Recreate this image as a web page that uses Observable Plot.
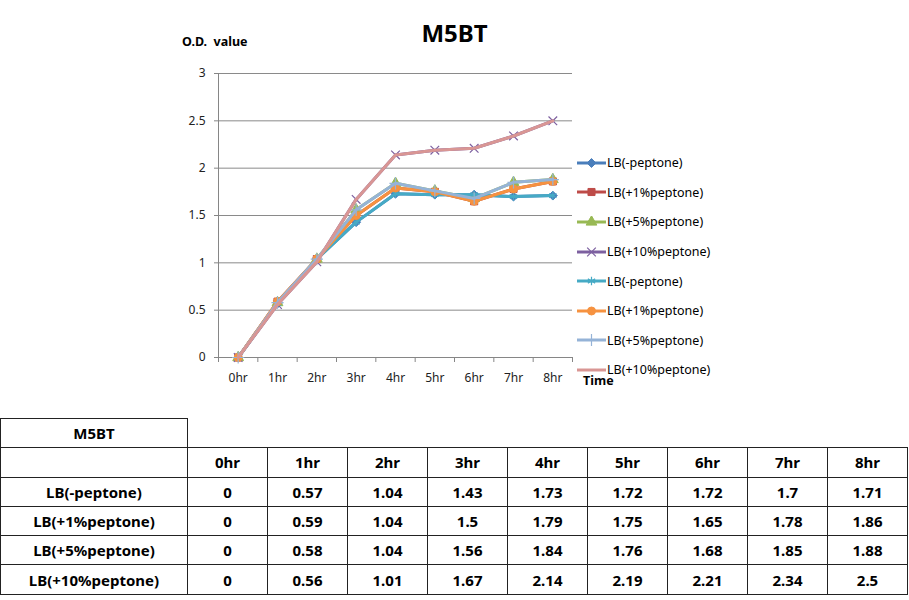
<!DOCTYPE html>
<html>
<head>
<meta charset="utf-8">
<script src="https://cdn.jsdelivr.net/npm/d3@7"></script>
<script src="https://cdn.jsdelivr.net/npm/@observablehq/plot@0.6"></script>
<style>
  body { margin: 0; background: #fff; font-family: "Noto Sans", sans-serif; }
  #wrap { position: relative; width: 909px; height: 600px; overflow: hidden; background: #fff; }
  #chart { position: absolute; left: 0; top: 0; }
  .lbl { position: absolute; font-weight: bold; color: #000; line-height: 1em; white-space: nowrap; }
  #title { left: 0; width: 909px; text-align: center; top: 21px; font-size: 24px; }
  #ylab { left: 182px; top: 36px; font-size: 12.5px; }
  #xlab { left: 583px; top: 375px; font-size: 12.5px; }
  #legend { position: absolute; left: 577px; top: 148px; }
  .lg { display: flex; align-items: center; height: 29.6px; font-size: 12.5px; color: #000; white-space: nowrap; }
  .lg svg { display: block; margin-right: 1px; }
  table { position: absolute; left: 0; top: 418px; border-collapse: collapse; table-layout: fixed; font-weight: bold; font-size: 15px; color: #000; }
  td { border: 1px solid #222; text-align: center; padding: 0; height: 28.3px; }
  td.blank { border-top: none; border-right: none; }
</style>
</head>
<body>
<div id="wrap">
  <div id="chart"></div>
  <div id="title" class="lbl">M5BT</div>
  <div id="ylab" class="lbl">O.D.&nbsp; value</div>
  <div id="xlab" class="lbl">Time</div>
  <div id="legend"></div>
  <table id="tbl"></table>
</div>
<script>
// ---- data ----
const chartTitle = "M5BT";
const hours = ["0hr", "1hr", "2hr", "3hr", "4hr", "5hr", "6hr", "7hr", "8hr"];
const yTicks = [0, 0.5, 1, 1.5, 2, 2.5, 3];
const conditions = ["LB(-peptone)", "LB(+1%peptone)", "LB(+5%peptone)", "LB(+10%peptone)"];
const lbNone = [0, 0.57, 1.04, 1.43, 1.73, 1.72, 1.72, 1.7, 1.71];
const lb1 = [0, 0.59, 1.04, 1.5, 1.79, 1.75, 1.65, 1.78, 1.86];
const lb5 = [0, 0.58, 1.04, 1.56, 1.84, 1.76, 1.68, 1.85, 1.88];
const lb10 = [0, 0.56, 1.01, 1.67, 2.14, 2.19, 2.21, 2.34, 2.5];
const conditionValues = [lbNone, lb1, lb5, lb10];
// the chart plots the four conditions twice (8 legend entries)
const seriesCondition = [0, 1, 2, 3, 0, 1, 2, 3];
const seriesColors = ["#4A7EBB", "#BE4B48", "#98B954", "#7D60A0", "#46AAC5", "#F69240", "#95B3D7", "#D99694"];
const seriesSymbols = ["diamond2", "square", "triangle", "times", "asterisk", "circle", "plus", null];
const strokeSymbols = new Set(["times", "asterisk", "plus"]);

// ---- build rows ----
const series = seriesCondition.map((c, s) => ({
  name: conditions[c],
  color: seriesColors[s],
  symbol: seriesSymbols[s],
  rows: hours.map((h, i) => ({ i, hour: h, value: conditionValues[c][i] }))
}));

const xDomain = [-0.5, hours.length - 0.5];
const boundaries = d3.range(hours.length + 1).map(i => i - 0.5);

const marks = [
  Plot.gridY({ ticks: yTicks, stroke: "#8a8a8a", strokeOpacity: 1, strokeWidth: 1 }),
  Plot.ruleX([xDomain[0]], { stroke: "#868686" }),
  Plot.ruleY([0], { stroke: "#868686" }),
  Plot.axisY({ ticks: yTicks, tickSize: 4, tickPadding: 9, tickFormat: d => String(d), label: null, stroke: "#868686", fill: "#222", fontSize: 12 }),
  Plot.axisX({ ticks: boundaries, tickSize: 5, tickFormat: () => "", label: null, stroke: "#868686" }),
  Plot.axisX({ ticks: d3.range(hours.length), tickSize: 0, tickPadding: 16, tickFormat: i => hours[i], label: null, fill: "#222", fontSize: 12 })
];

for (const s of series) {
  marks.push(Plot.line(s.rows, { x: "i", y: "value", stroke: s.color, strokeWidth: 3, strokeLinejoin: "round", curve: "linear" }));
  if (s.symbol) {
    const isStroke = strokeSymbols.has(s.symbol);
    marks.push(Plot.dot(s.rows, {
      x: "i", y: "value", symbol: () => s.symbol, r: 4,
      fill: isStroke ? "none" : s.color,
      stroke: s.color, strokeWidth: isStroke ? 1.2 : 1
    }));
  }
}

const chart = Plot.plot({
  width: 909,
  height: 400,
  marginLeft: 218,
  marginRight: 337,
  marginTop: 73,
  marginBottom: 43,
  x: { type: "linear", domain: xDomain, axis: null },
  y: { domain: [yTicks[0], yTicks[yTicks.length - 1]], axis: null },
  symbol: { type: "identity" },
  style: { fontFamily: "'Noto Sans', sans-serif", fontSize: "12px", background: "transparent", overflow: "visible", color: "#222" },
  marks
});
document.getElementById("chart").appendChild(chart);
document.getElementById("title").textContent = chartTitle;

// ---- legend ----
const legend = d3.select("#legend");
series.forEach(s => {
  const row = legend.append("div").attr("class", "lg");
  const sv = row.append("svg").attr("width", 29).attr("height", 12);
  sv.append("line").attr("x1", 0).attr("x2", 29).attr("y1", 6).attr("y2", 6)
    .attr("stroke", s.color).attr("stroke-width", 3);
  if (s.symbol) {
    const isStroke = strokeSymbols.has(s.symbol);
    const symMap = { diamond2: d3.symbolDiamond2, square: d3.symbolSquare, triangle: d3.symbolTriangle, times: d3.symbolTimes, asterisk: d3.symbolAsterisk, circle: d3.symbolCircle, plus: d3.symbolPlus };
    sv.append("path").attr("transform", "translate(14.5,6)")
      .attr("d", d3.symbol(symMap[s.symbol], 16 * Math.PI)())
      .attr("fill", isStroke ? "none" : s.color).attr("stroke", s.color).attr("stroke-width", isStroke ? 1.2 : 1);
  }
  row.append("span").text(s.name);
});

// ---- table ----
const tbl = d3.select("#tbl");
const cg = tbl.append("colgroup");
cg.append("col").style("width", "187px");
hours.forEach(() => cg.append("col").style("width", "80px"));
const r0 = tbl.append("tr");
r0.append("td").text(chartTitle);
r0.append("td").attr("class", "blank").attr("colspan", hours.length);
const r1 = tbl.append("tr");
r1.append("td");
hours.forEach(h => r1.append("td").text(h));
conditions.forEach((c, k) => {
  const r = tbl.append("tr");
  r.append("td").text(c);
  conditionValues[k].forEach(v => r.append("td").text(String(v)));
});
</script>
</body>
</html>
